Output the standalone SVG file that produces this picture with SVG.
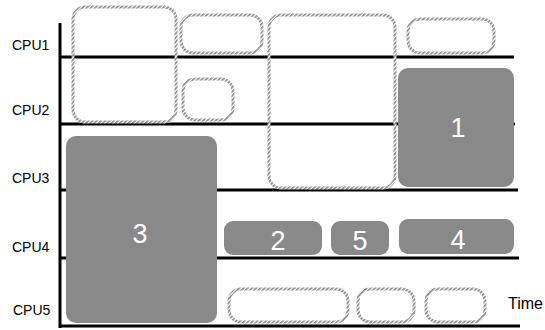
<svg xmlns="http://www.w3.org/2000/svg" width="545" height="330" viewBox="0 0 545 330">
<defs>
<pattern id="hatch" patternUnits="userSpaceOnUse" width="3" height="3" patternTransform="rotate(45)">
<rect width="3" height="3" fill="#ffffff"/>
<rect width="1.7" height="3" fill="#888888"/>
</pattern>
</defs>
<style>
.lbl{font-family:"Liberation Sans",Arial,sans-serif;font-size:14px;fill:#000}
.num{font-family:"Liberation Sans",Arial,sans-serif;font-size:27px;fill:#ffffff;text-anchor:middle}
.job{fill:#898989}
.idle{fill:none;stroke:url(#hatch);stroke-width:3}
.ln{stroke:#000;stroke-width:3;fill:none}
</style>
<rect width="545" height="330" fill="#ffffff"/>
<g id="labels">
<text class="lbl" x="12" y="50">CPU1</text>
<text class="lbl" x="12" y="115">CPU2</text>
<text class="lbl" x="12" y="183">CPU3</text>
<text class="lbl" x="12" y="252">CPU4</text>
<text class="lbl" x="13" y="315">CPU5</text>
<text class="lbl" x="508" y="309" style="font-size:16px">Time</text>
</g>
<g id="connectors">
<line class="ln" x1="60" y1="23" x2="60" y2="328"/>
<line class="ln" x1="60" y1="57" x2="514" y2="57"/>
<line class="ln" x1="60" y1="124" x2="515" y2="124"/>
<line class="ln" x1="60" y1="190" x2="518" y2="190"/>
<line class="ln" x1="60" y1="258" x2="519" y2="258"/>
<line class="ln" x1="60" y1="326" x2="520" y2="326"/>
</g>
<g id="idle-a"><rect class="idle" x="73" y="7" width="103" height="115" rx="12"/></g>
<g id="idle-b"><rect class="idle" x="181" y="15" width="81" height="38" rx="12"/></g>
<g id="idle-c"><rect class="idle" x="183" y="79" width="50" height="41" rx="12"/></g>
<g id="idle-d"><rect class="idle" x="269" y="15" width="126" height="173" rx="12"/></g>
<g id="idle-e"><rect class="idle" x="408" y="19" width="86" height="34" rx="12"/></g>
<g id="idle-f"><rect class="idle" x="229" y="289" width="119" height="33" rx="12"/></g>
<g id="idle-g"><rect class="idle" x="358" y="289" width="56" height="33" rx="12"/></g>
<g id="idle-h"><rect class="idle" x="426" y="289" width="59" height="33" rx="12"/></g>
<g id="job1"><rect class="job" x="398" y="68" width="116" height="119" rx="10"/><text class="num" x="458" y="137">1</text></g>
<g id="job3"><rect class="job" x="66" y="136" width="151" height="187" rx="10"/><text class="num" x="140" y="243">3</text></g>
<g id="job2"><rect class="job" x="224" y="221" width="98" height="34" rx="9"/><text class="num" x="278" y="250">2</text></g>
<g id="job5"><rect class="job" x="331" y="221" width="58" height="34" rx="9"/><text class="num" x="360" y="250">5</text></g>
<g id="job4"><rect class="job" x="399" y="219" width="115" height="35" rx="9"/><text class="num" x="458" y="249">4</text></g>
</svg>
